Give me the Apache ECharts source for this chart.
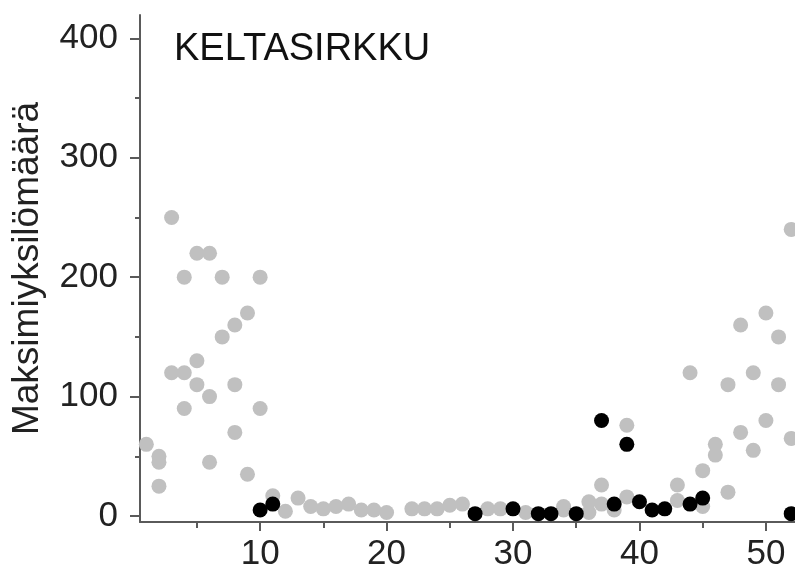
<!DOCTYPE html>
<html>
<head>
<meta charset="utf-8">
<script src="https://cdn.jsdelivr.net/npm/echarts@6/dist/echarts.min.js"></script>
<style>html,body{margin:0;padding:0;background:#fff}#c{width:795px;height:570px}</style>
</head>
<body>
<div id="c"></div>
<script>
const titleText = 'KELTASIRKKU';
const yName = 'Maksimiyksilömäärä';
const xMajorTicks = [10, 20, 30, 40, 50];
const xMinorTicks = [5, 15, 25, 35, 45];
const yMajorTicks = [0, 100, 200, 300, 400];
const yMinorTicks = [50, 150, 250, 350];

// grey series: [week, count]
const greyWeeks = [1,2,2,2,3,3,4,4,4,5,5,5,6,6,6,7,7,8,8,8,9,9,10,10,11,12,13,14,15,16,17,18,19,20,22,23,24,25,26,28,29,31,34,34,36,36,37,37,38,39,39,43,43,44,45,45,46,46,47,47,48,48,49,49,50,50,51,51,52,52];
const greyCounts = [60,50,45,25,250,120,200,120,90,220,130,110,220,100,45,200,150,160,110,70,170,35,200,90,17,4,15,8,6,8,10,5,5,3,6,6,6,9,10,6,6,3,5,8,12,3,26,10,5,76,16,26,13,120,38,8,60,51,110,20,160,70,120,55,170,80,150,110,240,65];
// black series
const blackWeeks = [10,11,27,30,32,33,35,37,38,39,40,41,42,44,45,52];
const blackCounts = [5,10,2,6,2,2,2,80,10,60,12,5,6,10,15,2];

const greyData = greyWeeks.map((w, i) => [w, greyCounts[i]]);
const blackData = blackWeeks.map((w, i) => [w, blackCounts[i]]);

const FONT = 'Liberation Sans, Arial, sans-serif';
const axisCol = '#5a5a5a';
const xMin = 0.5, xMax = 52.3, yMin = -5, yMax = 419.5;

const chart = echarts.init(document.getElementById('c'), null, {renderer: 'canvas'});
chart.setOption({
  animation: false,
  backgroundColor: '#fff',
  title: {
    text: titleText, left: 169, top: 26,
    textStyle: {fontFamily: FONT, fontSize: 38, fontWeight: 'normal', color: '#111'}
  },
  grid: {left: 140, right: 0, top: 15, bottom: 48, containLabel: false, outerBoundsMode: 'none'},
  xAxis: [{
    type: 'value', min: xMin, max: xMax,
    axisLine: {show: true, onZero: false, lineStyle: {color: axisCol, width: 2}},
    axisTick: {show: true, length: 9, inside: false, customValues: xMajorTicks, lineStyle: {color: axisCol, width: 2}},
    axisLabel: {customValues: xMajorTicks, margin: 15, fontFamily: FONT, fontSize: 35, color: '#222'},
    splitLine: {show: false}
  }, {
    type: 'value', min: xMin, max: xMax, position: 'bottom',
    axisLine: {show: false, onZero: false},
    axisTick: {show: true, length: 6, customValues: xMinorTicks, lineStyle: {color: axisCol, width: 2}},
    axisLabel: {show: false},
    splitLine: {show: false}
  }],
  yAxis: [{
    type: 'value', min: yMin, max: yMax,
    name: yName, nameLocation: 'middle', nameGap: 94, nameRotate: 90,
    nameTextStyle: {fontFamily: FONT, fontSize: 37, color: '#222'},
    axisLine: {show: true, onZero: false, lineStyle: {color: axisCol, width: 2}},
    axisTick: {show: true, length: 10, customValues: yMajorTicks, lineStyle: {color: axisCol, width: 2}},
    axisLabel: {customValues: yMajorTicks, margin: 22, fontFamily: FONT, fontSize: 35, color: '#222'},
    splitLine: {show: false}
  }, {
    type: 'value', min: yMin, max: yMax, position: 'left',
    axisLine: {show: false, onZero: false},
    axisTick: {show: true, length: 5, customValues: yMinorTicks, lineStyle: {color: axisCol, width: 2}},
    axisLabel: {show: false},
    splitLine: {show: false}
  }],
  series: [{
    type: 'scatter', data: greyData, symbolSize: 15, clip: false,
    itemStyle: {color: '#c0c0c0', opacity: 1}
  }, {
    type: 'scatter', data: blackData, symbolSize: 15, clip: false,
    itemStyle: {color: '#000', opacity: 1}
  }]
});
</script>
</body>
</html>
